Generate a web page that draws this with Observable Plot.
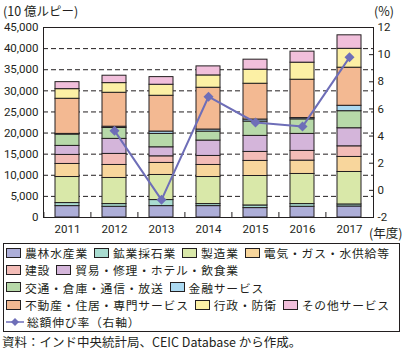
<!DOCTYPE html>
<html><head><meta charset="utf-8">
<script src="https://cdn.jsdelivr.net/npm/d3@7"></script>
<script src="https://cdn.jsdelivr.net/npm/@observablehq/plot@0.6"></script>
<style>
body{margin:0;background:#fff;}
#wrap{position:relative;width:405px;height:352px;font-family:"Noto Sans CJK JP",sans-serif;color:#231f20;overflow:hidden;}
.lab{position:absolute;font-size:12.5px;line-height:1;white-space:nowrap;}
.lab span{display:inline-block;line-height:1;}
#chart{position:absolute;left:0;top:0;}
#legend{position:absolute;left:3px;top:243px;width:397px;height:89px;border:1px solid #231f20;box-sizing:border-box;padding:0 0 0 2px;}
.row{display:flex;align-items:center;height:17.4px;font-size:11.8px;letter-spacing:0.8px;line-height:1;white-space:nowrap;}
.row span{display:inline-block;line-height:1;}
.item{display:flex;align-items:center;margin-right:6px;}
.sw{width:13px;height:8px;border:1px solid #231f20;margin-right:4px;flex:none;}
#src{position:absolute;left:2px;top:336px;font-size:12.5px;line-height:1;white-space:nowrap;}
</style></head>
<body><div id="wrap">
<div id="chart"></div>
<div class="lab" style="left:3px;top:5px;"><span>(10 億ルピー)</span></div>
<div class="lab" style="left:374px;top:5px;"><span>(%)</span></div>
<div class="lab" style="left:369px;top:227px;"><span>(年度)</span></div>
<div id="legend"></div>
<div id="src">資料：インド中央統計局、CEIC Database から作成。</div>
</div>
<script>
const years = ["2011","2012","2013","2014","2015","2016","2017"];
const sectors = ["農林水産業","鉱業採石業","製造業","電気・ガス・水供給等","建設","貿易・修理・ホテル・飲食業","交通・倉庫・通信・放送","金融サービス","不動産・住居・専門サービス","行政・防衛","その他サービス"];
const colors = ["#adaed8","#a9dcd0","#d9e8a9","#f8d69c","#f3bcb7","#d4b5da","#b7d9a9","#acdaf2","#f3b992","#fcf0a5","#f1bfdb"];
const agri      = [2700, 2540, 2700, 2700, 2230, 2540, 2610];
const mining    = [ 720,  640, 1430,  480,  620,  640,  480];
const manuf     = [6170, 6180, 5940, 6410, 6980, 7130, 7690];
const elec      = [3090, 3080, 2850, 2850, 3570, 3160, 3560];
const constr    = [2140, 2620, 1570, 2140, 2130, 2300, 2520];
const trade     = [2140, 3560, 2140, 3640, 3800, 4030, 4280];
const transport = [2690, 2580, 3170, 2130, 3400, 3450, 4040];
const finance   = [ 150,  300,  550,  480,  470,  300, 1280];
const realEst   = [8320, 8040, 8480, 9900, 8480, 9080, 9020];
const pubAdmin  = [2280, 2290, 2610, 2920, 3330, 4040, 4470];
const other     = [1660, 1750, 1810, 2140, 2370, 2610, 3200];
const growth    = [null, 4.4, -0.7, 6.9, 5.0, 4.7, 9.8];
const leftTicks  = [0,5000,10000,15000,20000,25000,30000,35000,40000,45000];
const rightTicks = [-2,0,2,4,6,8,10,12];

const series = [agri,mining,manuf,elec,constr,trade,transport,finance,realEst,pubAdmin,other];
const table = [];
series.forEach((vals,i)=>vals.forEach((v,j)=>table.push({year:years[j],sector:sectors[i],value:v})));
const growthData = years.map((y,i)=>({year:y,g:growth[i]})).filter(d=>d.g!=null);

const yMax = leftTicks[leftTicks.length-1];
const pMin = rightTicks[0], pMax = rightTicks[rightTicks.length-1];
const toY = p => (p - pMin) / (pMax - pMin) * yMax;
const fromY = y => Math.round(y / yMax * (pMax - pMin) + pMin);

const lineColor = "#6e6eb8";
const ink = "#231f20";

const chart = Plot.plot({
  width: 405, height: 240,
  marginTop: 27, marginBottom: 23, marginLeft: 43, marginRight: 32,
  style: {fontFamily: "Roboto, sans-serif", fontSize: "11.5px", color: ink, background: "transparent"},
  x: {type: "band", domain: years, paddingInner: 0.5, paddingOuter: 0.25, label: null},
  y: {domain: [0, yMax], label: null},
  color: {domain: sectors, range: colors},
  marks: [
    Plot.ruleY(leftTicks.slice(1, -1), {stroke: ink, strokeWidth: 1, strokeDasharray: "5,3"}),
    Plot.barY(table, {x: "year", y: "value", fill: "sector", stroke: ink, strokeWidth: 1, order: null}),
    Plot.frame({stroke: ink, strokeWidth: 1}),
    Plot.axisY({ticks: leftTicks, tickSize: 0, tickPadding: 5, tickFormat: d3.format(","), label: null}),
    Plot.axisY({anchor: "right", ticks: rightTicks.map(toY), tickSize: 5, dx: -5, text: null, label: null, stroke: ink}),
    Plot.axisY({anchor: "right", ticks: rightTicks.map(toY), tickSize: 0, tickPadding: 4, tickFormat: fromY, label: null}),
    Plot.axisX({tickSize: 5, dy: -5, dx: -23.6, text: null, label: null, stroke: ink}),
    Plot.axisX({tickSize: 0, tickPadding: 7, label: null}),
    Plot.line(growthData, {x: "year", y: d => toY(d.g), stroke: lineColor, strokeWidth: 2}),
    Plot.dot(growthData, {x: "year", y: d => toY(d.g), symbol: "diamond2", r: 4.5, fill: lineColor, stroke: null})
  ]
});
document.getElementById("chart").appendChild(chart);

// legend
const rows = [[0,1,2,3],[4,5],[6,7],[8,9,10]];
const leg = document.getElementById("legend");
rows.forEach(r=>{
  const row = document.createElement("div"); row.className="row";
  r.forEach(i=>{
    const it = document.createElement("div"); it.className="item";
    const sw = document.createElement("div"); sw.className="sw"; sw.style.background=colors[i];
    const t = document.createElement("span"); t.textContent=sectors[i];
    it.appendChild(sw); it.appendChild(t); row.appendChild(it);
  });
  leg.appendChild(row);
});
const lr = document.createElement("div"); lr.className="row";
lr.innerHTML = `<div class="item"><svg width="18" height="10" style="margin-right:3px"><line x1="0" y1="5" x2="18" y2="5" stroke="${lineColor}" stroke-width="1.5"/><path d="M9,1 L13,5 L9,9 L5,5Z" fill="${lineColor}"/></svg><span>総額伸び率（右軸）</span></div>`;
leg.appendChild(lr);
</script>
</body></html>
